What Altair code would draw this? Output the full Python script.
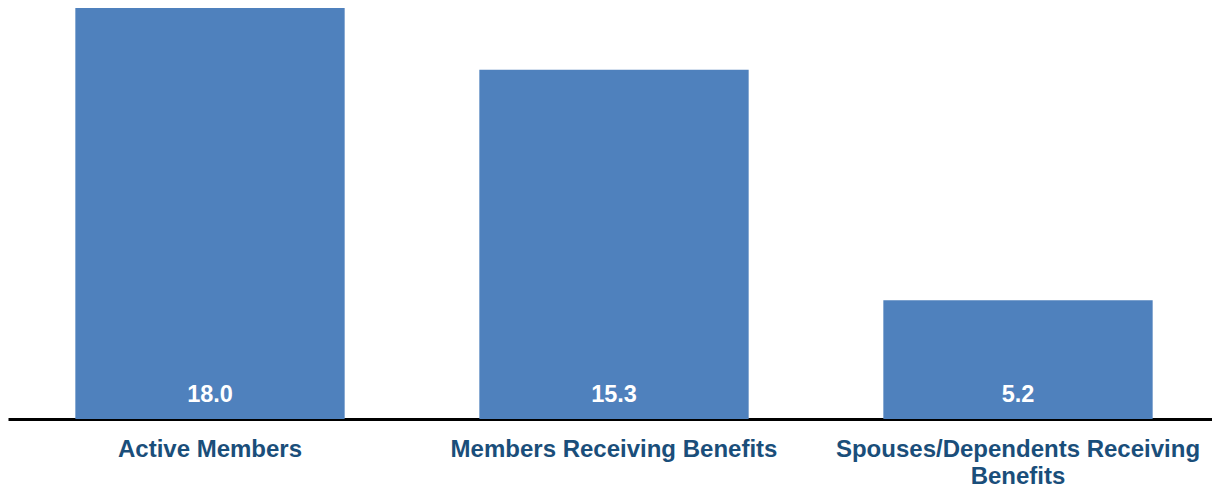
import altair as alt
import pandas as pd

categories = ["Active Members", "Members Receiving Benefits", "Spouses/Dependents Receiving Benefits"]
values = [18.0, 15.3, 5.2]

df = pd.DataFrame({"category": categories, "value": values})
df["label"] = [f"{v:.1f}" for v in values]

x = alt.X(
    "category:N",
    sort=categories,
    title=None,
    scale=alt.Scale(paddingInner=1/3, paddingOuter=1/6),
    axis=alt.Axis(
        labelAngle=0,
        labelFont="Liberation Sans",
        labelFontSize=24,
        labelFontWeight="bold",
        labelColor="#1a4e7a",
        labelPadding=18,
        labelLineHeight=27,
        labelLimit=0,
        ticks=False,
        domainColor="black",
        domainWidth=3,
        labelExpr="datum.label == 'Spouses/Dependents Receiving Benefits' ? ['Spouses/Dependents Receiving', 'Benefits'] : datum.label",
    ),
)

base = alt.Chart(df)

bars = base.mark_bar(color="#4f81bd").encode(
    x=x,
    y=alt.Y("value:Q", scale=alt.Scale(domain=[0, 18.0], nice=False), axis=None),
)

text = base.mark_text(
    color="white",
    font="Liberation Sans",
    fontSize=23.5,
    fontWeight="bold",
    baseline="alphabetic",
    dy=-17,
).encode(
    x=alt.X("category:N", sort=categories),
    y=alt.datum(0),
    text="label:N",
)

chart = (
    alt.layer(bars, text)
    .properties(
        width=1212,
        height=411,
        background="white",
        autosize=alt.AutoSizeParams(type="none"),
        padding={"left": 0, "right": -8, "top": 0, "bottom": 69},
    )
    .configure_view(stroke="transparent", strokeWidth=0)
)

chart.save("out.html", embed_options={"renderer": "svg", "actions": False})
